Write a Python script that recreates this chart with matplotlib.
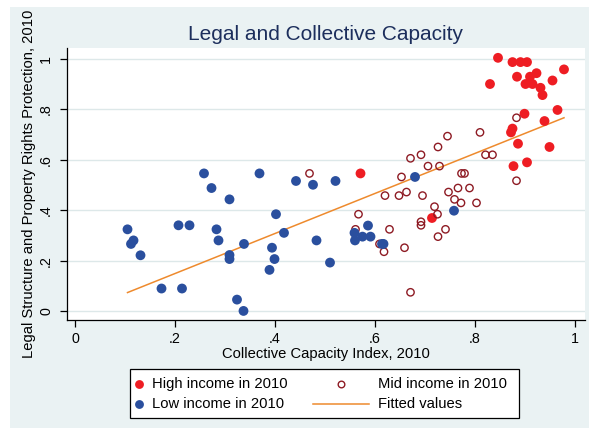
import numpy as np
import matplotlib
matplotlib.use("Agg")
import matplotlib.pyplot as plt
from matplotlib.patches import Rectangle
from matplotlib.lines import Line2D

plt.rcParams["font.family"] = ["Liberation Sans", "DejaVu Sans"]

# ── Data ───────────────────────────────────────────────────────────────────────
high_x = [0.571, 0.714, 0.846, 0.875, 0.891, 0.904, 0.830, 0.884, 0.910, 0.923,
          0.901, 0.915, 0.931, 0.935, 0.955, 0.978, 0.899, 0.965, 0.939, 0.875,
          0.872, 0.886, 0.949, 0.877, 0.904]
high_y = [0.546, 0.369, 1.005, 0.988, 0.988, 0.988, 0.901, 0.930, 0.930, 0.944,
          0.901, 0.901, 0.886, 0.857, 0.915, 0.959, 0.783, 0.798, 0.754, 0.724,
          0.709, 0.664, 0.651, 0.575, 0.590]

mid_x = [0.469, 0.883, 0.883, 0.810, 0.821, 0.835, 0.745, 0.726, 0.671, 0.692,
         0.706, 0.729, 0.653, 0.773, 0.779, 0.620, 0.648, 0.663, 0.695, 0.747,
         0.766, 0.789, 0.759, 0.772, 0.803, 0.719, 0.725, 0.567, 0.561, 0.629,
         0.692, 0.692, 0.741, 0.726, 0.609, 0.618, 0.659, 0.671]
mid_y = [0.546, 0.767, 0.517, 0.709, 0.620, 0.620, 0.694, 0.651, 0.606, 0.620,
         0.575, 0.575, 0.532, 0.546, 0.546, 0.458, 0.458, 0.472, 0.458, 0.472,
         0.488, 0.488, 0.443, 0.429, 0.429, 0.414, 0.384, 0.384, 0.324, 0.324,
         0.354, 0.340, 0.324, 0.295, 0.266, 0.235, 0.251, 0.074]

low_x = [0.105, 0.112, 0.117, 0.131, 0.173, 0.207, 0.214, 0.229, 0.258, 0.273,
         0.283, 0.287, 0.309, 0.309, 0.309, 0.324, 0.337, 0.338, 0.369, 0.389,
         0.394, 0.399, 0.402, 0.418, 0.442, 0.476, 0.483, 0.510, 0.521, 0.559,
         0.560, 0.575, 0.586, 0.591, 0.614, 0.617, 0.680, 0.758]
low_y = [0.324, 0.266, 0.280, 0.221, 0.089, 0.340, 0.089, 0.340, 0.546, 0.488,
         0.324, 0.280, 0.443, 0.222, 0.206, 0.045, 0.000, 0.266, 0.546, 0.163,
         0.251, 0.206, 0.384, 0.310, 0.516, 0.501, 0.280, 0.192, 0.516, 0.310,
         0.280, 0.295, 0.339, 0.295, 0.266, 0.266, 0.532, 0.398]

# fitted line (some points overlap and are hidden)
fit_slope = 0.795
fit_intercept = -0.0105

ticks = [0, 0.2, 0.4, 0.6, 0.8, 1.0]
tick_labels = ["0", ".2", ".4", ".6", ".8", "1"]

BG = "#EAF2F3"
GRID = "#DDE8E9"
RED = "#EE1D23"
NAVY = "#2A4F9E"
MAROON = "#8E1B24"
ORANGE = "#EE8A2D"
TITLE_C = "#1C2E5C"

all_x = np.array(high_x + mid_x + low_x)
fx = np.array([all_x.min(), all_x.max()])
fy = fit_intercept + fit_slope * fx

# ── Figure ─────────────────────────────────────────────────────────────────────
W, H = 589, 428
fig = plt.figure(figsize=(W / 100, H / 100), dpi=100, facecolor="white")
fig.patches.append(Rectangle((10 / W, 0), 1, (H - 7) / H, transform=fig.transFigure,
                             facecolor=BG, edgecolor="none", zorder=-10))

ax = fig.add_axes([67 / W, (H - 320) / H, (585 - 67) / W, (320 - 48) / H])
ax.set_facecolor("white")
ax.set_xlim(-0.016, 1.02)
ax.set_ylim(-0.036, 1.044)

for t in ticks:
    ax.axhline(t, color=GRID, lw=1.0, zorder=1)

MS_FILL = 50
MS_HOLLOW = 28
ax.scatter(high_x, high_y, s=MS_FILL, color=RED, edgecolors="none", zorder=3)
ax.scatter(mid_x, mid_y, s=MS_HOLLOW, facecolors="none", edgecolors=MAROON,
           linewidths=1.0, zorder=3)
ax.scatter(low_x, low_y, s=MS_FILL, color=NAVY, edgecolors="none", zorder=3)
ax.plot(fx, fy, color=ORANGE, lw=1.1, zorder=2)

for side in ["top", "right"]:
    ax.spines[side].set_visible(False)
for side in ["left", "bottom"]:
    ax.spines[side].set_linewidth(0.9)

ax.set_xticks(ticks)
ax.set_xticklabels(tick_labels, fontsize=10.3)
ax.set_yticks(ticks)
ax.set_yticklabels(tick_labels, fontsize=10.3, rotation=90, va="center")
ax.tick_params(direction="out", length=5, width=0.9)
ax.tick_params(axis="y", pad=5)

ax.set_xlabel("Collective Capacity Index, 2010", fontsize=10.6, labelpad=1)
ax.set_ylabel("Legal Structure and Property Rights Protection, 2010", fontsize=10.6, labelpad=2)
ax.set_title("Legal and Collective Capacity", fontsize=15, color=TITLE_C, pad=6)


# ── Legend box (Stata style, drawn in pixel coords) ────────────────────────────
def fx_(px):
    return px / W


def fy_(py):
    return 1 - py / H


fig.patches.append(Rectangle((fx_(130), fy_(418)), (519 - 130) / W, (418 - 369) / H,
                             transform=fig.transFigure, facecolor="white",
                             edgecolor="black", linewidth=0.9, zorder=5))
r1, r2 = 384, 404
LEG_FS = 10.6
fig.add_artist(Line2D([fx_(139)], [fy_(r1)], marker="o", markersize=np.sqrt(MS_FILL) * 0.9,
                      color=RED, markeredgecolor="none", linestyle="none", zorder=6))
fig.add_artist(Line2D([fx_(139)], [fy_(r2)], marker="o", markersize=np.sqrt(MS_FILL) * 0.9,
                      color=NAVY, markeredgecolor="none", linestyle="none", zorder=6))
fig.add_artist(Line2D([fx_(341)], [fy_(r1)], marker="o", markersize=np.sqrt(MS_HOLLOW) * 0.9,
                      markerfacecolor="none", markeredgecolor=MAROON, markeredgewidth=1.0,
                      linestyle="none", zorder=6))
fig.add_artist(Line2D([fx_(313), fx_(369)], [fy_(r2), fy_(r2)], color=ORANGE, lw=1.1, zorder=6))
fig.text(fx_(152), fy_(r1), "High income in 2010", fontsize=LEG_FS, va="center", zorder=7)
fig.text(fx_(152), fy_(r2), "Low income in 2010", fontsize=LEG_FS, va="center", zorder=7)
fig.text(fx_(378), fy_(r1), "Mid income in 2010", fontsize=LEG_FS, va="center", zorder=7)
fig.text(fx_(378), fy_(r2), "Fitted values", fontsize=LEG_FS, va="center", zorder=7)

fig.savefig("out.png", dpi=100, facecolor="white")
